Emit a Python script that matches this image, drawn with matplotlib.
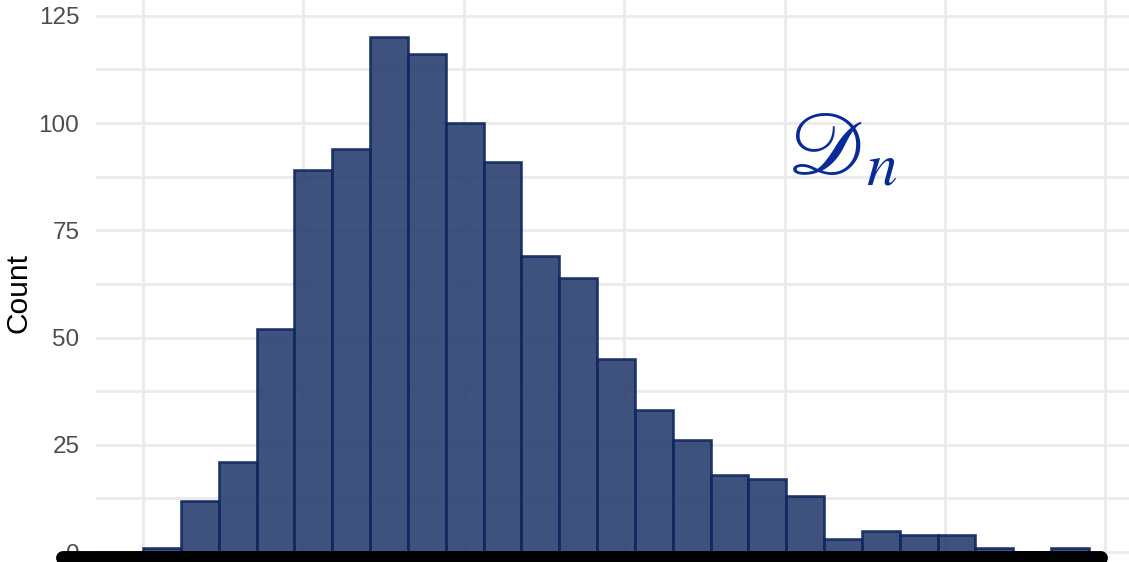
import numpy as np
import matplotlib
matplotlib.use("Agg")
import matplotlib.pyplot as plt

# Histogram bin counts (25 equal-width bins)
counts = [1, 12, 21, 52, 89, 94, 120, 116, 100, 91, 69, 64, 45, 33, 26,
          18, 17, 13, 3, 5, 4, 4, 1, 0, 1]
bin_start = 0.0
bin_width = 0.2359
y_ticks = [0, 25, 50, 75, 100, 125]
x_grid = [0, 1, 2, 3, 4, 5, 6]

plt.rcParams['font.family'] = ['Liberation Sans', 'DejaVu Sans']

fig = plt.figure(figsize=(11.29, 5.62), dpi=100)
ax = fig.add_axes([96 / 1129, 0.0, 1 - 96 / 1129, 1.0])

edges = bin_start + bin_width * np.arange(len(counts) + 1)
ax.bar(edges[:-1], counts, width=bin_width, align='edge',
       color='#2a3f6f', alpha=0.9, edgecolor='#0f2660', linewidth=1.9,
       zorder=3)

ax.set_xlim(-0.293, 6.147)
ax.set_ylim(-2.33, 128.7)

ax.set_yticks(y_ticks)
ax.set_yticks([12.5, 37.5, 62.5, 87.5, 112.5], minor=True)
ax.set_xticks(x_grid)
ax.set_xticks([], minor=True)
ax.grid(True, which='both', color='#ebebeb', linewidth=2.0, zorder=0)
ax.tick_params(axis='both', which='both', length=0)
ax.tick_params(axis='y', labelsize=17.5, labelcolor='#4d4d4d', pad=12)
ax.set_xticklabels([])
for s in ax.spines.values():
    s.set_visible(False)

fig.text(18 / 1129, 1 - 293 / 562, 'Count', rotation=90, fontsize=21.5,
         ha='center', va='center', color='black')

ax.text(4.03, 93.5, r'$\mathscr{D}_n$', fontsize=63, color='#0a2a99',
        math_fontfamily='stix', ha='left', va='center', zorder=5)

# thick black stroke along the baseline
ax.plot([-0.50, 5.97], [-1.3, -1.3], color='black', linewidth=10,
        solid_capstyle='round', zorder=6, clip_on=False)

fig.savefig('out.png', dpi=100)
